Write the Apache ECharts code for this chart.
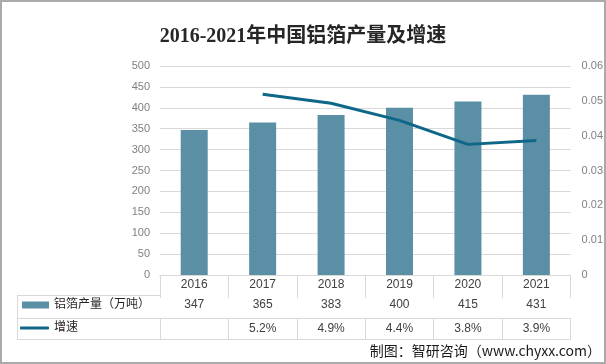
<!DOCTYPE html>
<html><head><meta charset="utf-8">
<script src="https://cdn.jsdelivr.net/npm/echarts@6/dist/echarts.min.js"></script>
<style>html,body{margin:0;padding:0;background:#fff}#c{width:606px;height:364px}</style>
</head><body><div id="c"></div>
<script>
var years = ['2016','2017','2018','2019','2020','2021'];
var output = [347, 365, 383, 400, 415, 431];
var growth = [null, 0.0519, 0.0493, 0.0444, 0.0375, 0.0386];
var growthLabels = ['', '5.2%', '4.9%', '4.4%', '3.8%', '3.9%'];
var leftTicks = {min: 0, max: 500, interval: 50};
var rightTicks = {min: 0, max: 0.06, interval: 0.01};
var barName = '铝箔产量（万吨）';
var lineName = '增速';

var GL = 160, GR = 35, GT = 66, GB = 89;
var gridColor = '#d9d9d9';
var lineColor = '#0e6788';
var tf = "'Liberation Sans','Noto Sans CJK SC',sans-serif";
var chart = echarts.init(document.getElementById('c'), null, {renderer: 'canvas'});

function tableAxis(offset, labels, tickLen, margin) {
  return {
    type: 'category', data: years, position: 'bottom', offset: offset, gridIndex: 0,
    axisLine: {show: true, lineStyle: {color: gridColor, width: 1}},
    axisTick: {show: tickLen > 0, length: tickLen, lineStyle: {color: gridColor}},
    axisLabel: {show: !!labels, margin: margin, color: '#404040', fontSize: 12, fontFamily: tf,
      formatter: function (v, i) { return labels ? labels[i] : ''; }},
    splitLine: {show: false}
  };
}

chart.setOption({
  animation: false,
  title: {text: '2016-2021年中国铝箔产量及增速', left: 'center', top: 22,
    textStyle: {fontSize: 20, fontWeight: 'bold', color: '#262626', fontFamily: "'Liberation Serif','Noto Sans CJK SC',serif"}},
  grid: {left: GL, right: GR, top: GT, bottom: GB},
  legend: [
    {data: [{name: barName, icon: 'rect'}], orient: 'horizontal', left: 22, top: 299, padding: 0,
     itemWidth: 27, itemHeight: 7, itemGap: 5,
     textStyle: {fontSize: 12, color: '#262626', fontFamily: tf}},
    {data: [{name: lineName, icon: 'roundRect', itemStyle: {color: lineColor}}], orient: 'horizontal', left: 20, top: 322, padding: 0,
     itemWidth: 29, itemHeight: 3,
     textStyle: {fontSize: 12, color: '#262626', fontFamily: tf}}
  ],
  xAxis: [
    tableAxis(0, years, 20, 4),
    tableAxis(20, output.map(String), 23, 4),
    tableAxis(43, growthLabels, 21, 5),
    tableAxis(64, null, 0, 0)
  ],
  yAxis: [
    {type: 'value', min: leftTicks.min, max: leftTicks.max, interval: leftTicks.interval,
     axisLine: {show: false}, axisTick: {show: false},
     axisLabel: {color: '#808080', fontSize: 11, margin: 10, fontFamily: tf},
     splitLine: {lineStyle: {color: gridColor}}},
    {type: 'value', min: rightTicks.min, max: rightTicks.max, interval: rightTicks.interval,
     position: 'right', axisLine: {show: false}, axisTick: {show: false},
     axisLabel: {color: '#808080', fontSize: 11, margin: 11, fontFamily: tf,
       formatter: function (v) { return v === 0 ? '0' : String(+v.toFixed(2)); }},
     splitLine: {show: false}}
  ],
  series: [
    {name: barName, type: 'bar', data: output, xAxisIndex: 0, yAxisIndex: 0,
     barWidth: 27, itemStyle: {color: '#5b8fa6'}},
    {name: lineName, type: 'line', data: growth, xAxisIndex: 0, yAxisIndex: 1,
     symbol: 'none', connectNulls: false, lineStyle: {color: lineColor, width: 3},
     itemStyle: {color: lineColor}}
  ],
  graphic: [
    {type: 'line', shape: {x1: 17, y1: 295.5, x2: GL, y2: 295.5}, style: {stroke: gridColor, lineWidth: 1}},
    {type: 'line', shape: {x1: 17, y1: 318.5, x2: GL, y2: 318.5}, style: {stroke: gridColor, lineWidth: 1}},
    {type: 'line', shape: {x1: 17, y1: 339.5, x2: GL, y2: 339.5}, style: {stroke: gridColor, lineWidth: 1}},
    {type: 'line', shape: {x1: 17.5, y1: 295, x2: 17.5, y2: 340}, style: {stroke: gridColor, lineWidth: 1}},
    {type: 'text', right: 5, top: 344, style: {text: '制图：智研咨询（www.chyxx.com）', fontSize: 14,
      fill: '#1a1a1a', fontFamily: "'Noto Sans CJK SC',sans-serif"}},
    {type: 'rect', shape: {x: 1, y: 1, width: 604, height: 362}, style: {fill: 'none', stroke: '#aaaaaa', lineWidth: 2}, silent: true}
  ]
});
</script></body></html>
